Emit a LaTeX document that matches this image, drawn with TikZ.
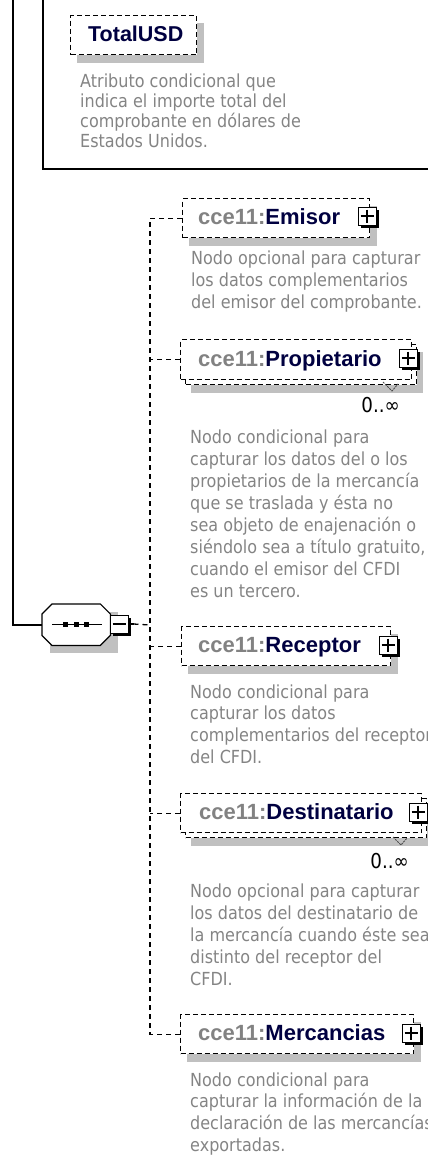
\documentclass[tikz,border=0pt]{standalone}
\usepackage{fontspec}
\newfontfamily\namefont{Liberation Sans}
\newfontfamily\descfont[FakeStretch=0.89]{DejaVu Sans}
\usetikzlibrary{backgrounds,calc}
\definecolor{shadowgray}{RGB}{192,192,192}
\definecolor{namecol}{RGB}{0,0,64}
\definecolor{prefixcol}{RGB}{130,130,130}
\definecolor{desccol}{RGB}{132,132,132}
\tikzset{
  dashbox/.style={draw=black, line width=1.3pt, dash pattern=on 5pt off 3pt, fill=white, inner sep=0, anchor=north west},
  conn/.style={draw=black, line width=1.3pt, dash pattern=on 5pt off 4pt},
  solidline/.style={draw=black, line width=1.6pt},
  nametext/.style={font=\namefont\bfseries\fontsize{22}{26}\selectfont, text=namecol, anchor=base west, inner sep=0},
  desctext/.style={font=\descfont\fontsize{18}{22}\selectfont, text=desccol, anchor=base west, inner sep=0},
  occtext/.style={font=\descfont\fontsize{20.5}{24}\selectfont, text=black, anchor=base east, inner sep=0},
  btn/.style={draw=black, line width=1pt, fill=white, minimum size=18, inner sep=0},
  gshadow/.style={fill=shadowgray},
  notch/.style={draw=black!70, line width=0.9pt, dash pattern=on 2pt off 1pt}
}
\newcommand\expbtn[4]{%
  \fill[black] (#2-6,#3-6) rectangle (#2+12,#3+12);
  \node[btn] (#1) at (#2,#3) {};
  \draw[line width=1.2pt] ([xshift=3]#1.west) -- ([xshift=-3]#1.east);
  \ifnum#4=1 \draw[line width=1.2pt] ([yshift=-3]#1.north) -- ([yshift=3]#1.south);\fi
}
\begin{document}
\begin{tikzpicture}[x=1pt,y=-1pt]
\useasboundingbox (0,0) rectangle (428,1156);
% ---------- enclosing box (top) ----------
\coordinate (boxTL) at (43,-3);
\coordinate (boxBR) at (435,169);
\draw[solidline] (boxTL) |- (boxBR);
% TotalUSD
\node[dashbox, minimum width=126, minimum height=39] (total) at (70,15) {};
\node[nametext, font=\namefont\bfseries\fontsize{21.5}{26}\selectfont] (totalT) at (88,42) {TotalUSD};
\foreach \t [count=\i from 0] in {Atributo condicional que, indica el importe total del, comprobante en dólares de, Estados Unidos.}
  \node[desctext] (totalD\i) at (80, 87+20.3*\i) {\t};

% ---------- sequence compositor ----------
\node[minimum width=68, minimum height=41, inner sep=0, anchor=north west] (seq) at (42,604) {};
\draw[line width=1.2pt, fill=white] ([xshift=10]seq.north west) -- ([xshift=-10]seq.north east) -- ([yshift=-10]seq.north east) -- ([yshift=10]seq.south east) -- ([xshift=-10]seq.south east) -- ([xshift=10]seq.south west) -- ([yshift=10]seq.south west) -- ([yshift=-10]seq.north west) -- cycle;
\draw[line width=1.2pt] ([xshift=10]seq.west) -- ([xshift=-8]seq.east);
\foreach \dx [count=\k] in {-10.5,0,10.5}
  \fill[black] ($(seq.center)+(\dx-2.3,-2.3)$) rectangle ($(seq.center)+(\dx+2.3,2.3)$);
\expbtn{minus}{119}{624}{0}
\coordinate (outerTop) at (13,-3);
\draw[solidline] (outerTop) |- (seq.west);

% ---------- Emisor ----------
\node[dashbox, minimum width=187, minimum height=39] (emisor) at (182,198) {};
\node[nametext] (emisorT) at (198,224) {\textcolor{prefixcol}{cce11:}Emisor};
\expbtn{emisorB}{367}{216}{1}
\foreach \t [count=\i from 0] in {Nodo opcional para capturar, los datos complementarios, del emisor del comprobante.}
  \node[desctext] (emisorD\i) at (191, 264+22*\i) {\t};

% ---------- Propietario ----------
\node[dashbox, minimum width=231, minimum height=40] (propB) at (185,344) {};
\node[dashbox, minimum width=231, minimum height=40] (propF) at (180,339) {};
\node[nametext] (propT) at (198,366) {\textcolor{prefixcol}{cce11:}Propietario};
\expbtn{propBtn}{408}{358}{1}
\draw[notch] (383,382) -- (392,391) -- (398,384);
\node[occtext] (propO) at (400,412) {0..∞};
\foreach \t [count=\i from 0] in {Nodo condicional para, capturar los datos del o los, propietarios de la mercancía, que se traslada y ésta no, sea objeto de enajenación o, {siéndolo sea a título gratuito,}, cuando el emisor del CFDI, es un tercero.}
  \node[desctext] (propD\i) at (190, 443+22*\i) {\t};

% ---------- Receptor ----------
\node[dashbox, minimum width=209, minimum height=39] (recep) at (181,626) {};
\node[nametext] (recepT) at (198,652) {\textcolor{prefixcol}{cce11:}Receptor};
\expbtn{recepB}{388}{645}{1}
\foreach \t [count=\i from 0] in {Nodo condicional para, capturar los datos, complementarios del receptor, del CFDI.}
  \node[desctext] (recepD\i) at (190, 698+21.7*\i) {\t};

% ---------- Destinatario ----------
\node[dashbox, minimum width=241, minimum height=39] (destB) at (185,798) {};
\node[dashbox, minimum width=241, minimum height=39] (destF) at (180,793) {};
\node[nametext] (destT) at (199,819) {\textcolor{prefixcol}{cce11:}Destinatario};
\expbtn{destBtn}{418}{812}{1}
\draw[notch] (393,837) -- (401,845) -- (407,838);
\node[occtext] (destO) at (409,868) {0..∞};
\foreach \t [count=\i from 0] in {Nodo opcional para capturar, los datos del destinatario de, la mercancía cuando éste sea, distinto del receptor del, CFDI.}
  \node[desctext] (destD\i) at (190, 897+22*\i) {\t};

% ---------- Mercancias ----------
\node[dashbox, minimum width=233, minimum height=39] (merc) at (180,1014) {};
\node[nametext] (mercT) at (198,1040) {\textcolor{prefixcol}{cce11:}Mercancias};
\expbtn{mercB}{411}{1033}{1}
\foreach \t [count=\i from 0] in {Nodo condicional para, capturar la información de la, declaración de las mercancías, exportadas.}
  \node[desctext] (mercD\i) at (190, 1086+21.7*\i) {\t};

% ---------- connectors ----------
\coordinate (tr) at (150,625);
\draw[conn] (emisor.west) -| (tr);
\draw[conn] (propF.west) -- (propF.west -| tr);
\draw[conn] (recep.west) -- (recep.west -| tr);
\draw[conn] (destF.west) -- (destF.west -| tr);
\draw[conn] (merc.west) -| (tr);
\draw[line width=1.2pt] (minus.east) -- ++(5,0) coordinate (mEnd);
\draw[conn] (mEnd) -- (tr);

% ---------- shadows ----------
\begin{pgfonlayer}{background}
  \fill[gshadow] ([shift={(7,8)}]total.north west) rectangle ([shift={(7,8)}]total.south east);
  \fill[gshadow] ([shift={(7,8)}]emisor.north west) rectangle ([shift={(7,8)}]emisor.south east);
  \fill[gshadow] ([shift={(6,8)}]propB.north west) rectangle ([shift={(6,8)}]propB.south east);
  \fill[gshadow] ([shift={(7,8)}]recep.north west) rectangle ([shift={(7,8)}]recep.south east);
  \fill[gshadow] ([shift={(6,8)}]destB.north west) rectangle ([shift={(6,8)}]destB.south east);
  \fill[gshadow] ([shift={(7,8)}]merc.north west) rectangle ([shift={(7,8)}]merc.south east);
  \fill[gshadow] ([shift={(8,8)}]seq.north west) rectangle ([shift={(8,8)}]seq.south east);
\end{pgfonlayer}
\end{tikzpicture}
\end{document}
